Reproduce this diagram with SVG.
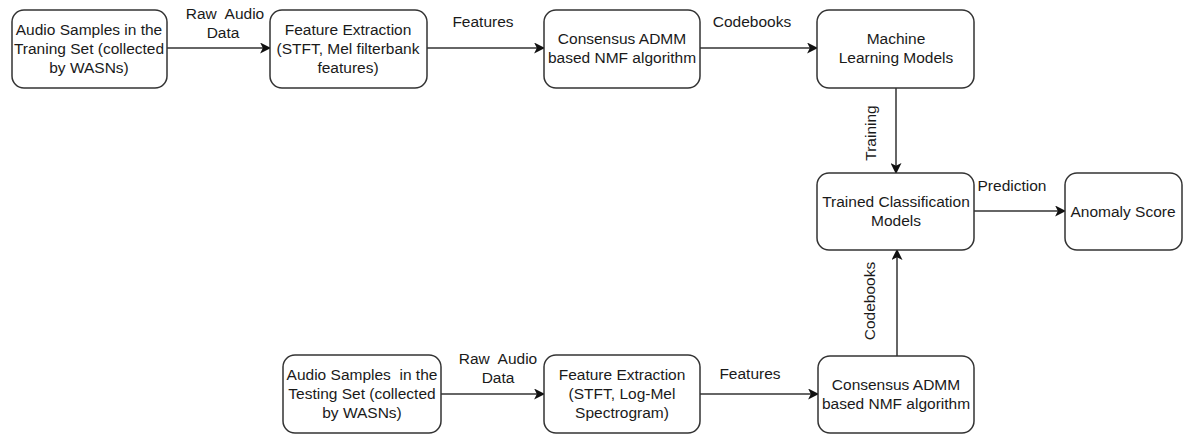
<svg xmlns="http://www.w3.org/2000/svg" width="1184" height="434" viewBox="0 0 1184 434">
  <defs>
    <style>
      .box { fill: #ffffff; stroke: #333333; stroke-width: 1.5; }
      .t { font-family: "Liberation Sans", Arial, sans-serif; font-size: 15.5px; fill: #1a1a1a; text-anchor: middle; white-space: pre; }
      .edge { fill: none; stroke: #333333; stroke-width: 1.5; marker-end: url(#arrow); }
    </style>
    <marker id="arrow" viewBox="0 0 10 10" refX="9" refY="5" markerWidth="11" markerHeight="11" markerUnits="userSpaceOnUse" orient="auto">
      <path d="M0,0 L10,5 L0,10 L2.5,5 Z" fill="#111111"/>
    </marker>
  </defs>
  <rect width="1184" height="434" fill="#ffffff"/>

  <!-- connectors -->
  <g id="connectors">
    <path class="edge" d="M167,48 L270,48"/>
    <path class="edge" d="M427,48 L544,48"/>
    <path class="edge" d="M700,48 L817,48"/>
    <path class="edge" d="M896,88 L896,173"/>
    <path class="edge" d="M974,211 L1065,211"/>
    <path class="edge" d="M441,394 L544,394"/>
    <path class="edge" d="M700,394 L818,394"/>
    <path class="edge" d="M897,356 L897,250"/>
    <text class="t" x="225" y="19" xml:space="preserve">Raw  Audio</text>
    <text class="t" x="223" y="38">Data</text>
    <text class="t" x="483" y="27">Features</text>
    <text class="t" x="752" y="27">Codebooks</text>
    <text class="t" transform="translate(876,133) rotate(-90)">Training</text>
    <text class="t" x="1012" y="191">Prediction</text>
    <text class="t" transform="translate(875,301) rotate(-90)">Codebooks</text>
    <text class="t" x="498" y="364" xml:space="preserve">Raw  Audio</text>
    <text class="t" x="498" y="383">Data</text>
    <text class="t" x="750" y="379">Features</text>
  </g>

  <g id="train-audio">
    <rect class="box" x="12" y="10" width="155" height="78" rx="12"/>
    <text class="t" x="89" y="35">Audio Samples in the</text>
    <text class="t" x="89" y="54">Traning Set (collected</text>
    <text class="t" x="89" y="73">by WASNs)</text>
  </g>

  <g id="train-features">
    <rect class="box" x="270" y="10" width="157" height="78" rx="12"/>
    <text class="t" x="348" y="35">Feature Extraction</text>
    <text class="t" x="348" y="54">(STFT, Mel filterbank</text>
    <text class="t" x="348" y="73">features)</text>
  </g>

  <g id="train-nmf">
    <rect class="box" x="544" y="10" width="156" height="78" rx="12"/>
    <text class="t" x="622" y="44">Consensus ADMM</text>
    <text class="t" x="622" y="63">based NMF algorithm</text>
  </g>

  <g id="ml-models">
    <rect class="box" x="817" y="10" width="157" height="78" rx="12"/>
    <text class="t" x="896" y="44">Machine</text>
    <text class="t" x="896" y="63">Learning Models</text>
  </g>

  <g id="trained-models">
    <rect class="box" x="817" y="173" width="157" height="77" rx="12"/>
    <text class="t" x="896" y="207">Trained Classification</text>
    <text class="t" x="896" y="226">Models</text>
  </g>

  <g id="anomaly-score">
    <rect class="box" x="1065" y="173" width="117" height="77" rx="12"/>
    <text class="t" x="1123" y="217">Anomaly Score</text>
  </g>

  <g id="test-audio">
    <rect class="box" x="283" y="355" width="158" height="78" rx="12"/>
    <text class="t" x="362" y="380" xml:space="preserve">Audio Samples  in the</text>
    <text class="t" x="362" y="399">Testing Set (collected</text>
    <text class="t" x="362" y="418">by WASNs)</text>
  </g>

  <g id="test-features">
    <rect class="box" x="544" y="355" width="156" height="78" rx="12"/>
    <text class="t" x="622" y="380">Feature Extraction</text>
    <text class="t" x="622" y="399">(STFT, Log-Mel</text>
    <text class="t" x="622" y="418">Spectrogram)</text>
  </g>

  <g id="test-nmf">
    <rect class="box" x="818" y="356" width="156" height="77" rx="12"/>
    <text class="t" x="896" y="390">Consensus ADMM</text>
    <text class="t" x="896" y="409">based NMF algorithm</text>
  </g>
</svg>
